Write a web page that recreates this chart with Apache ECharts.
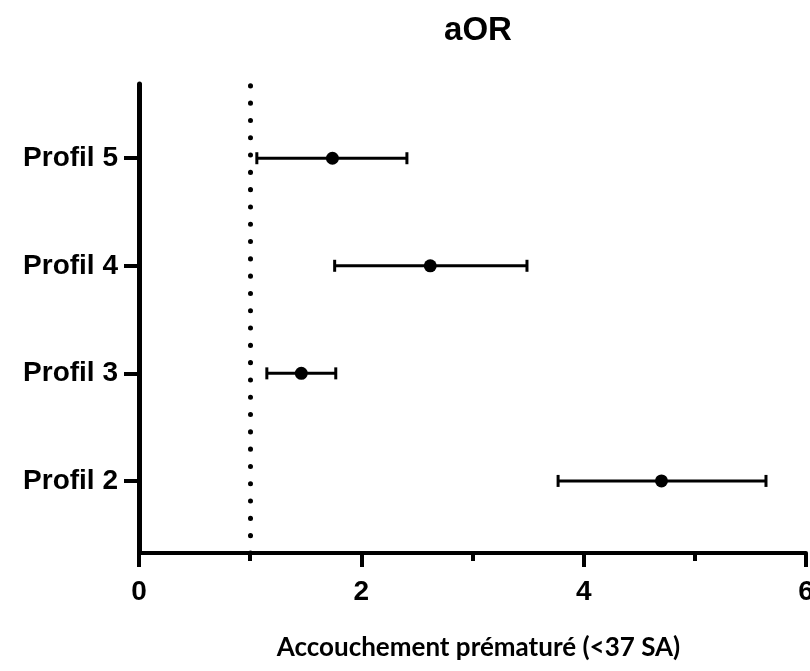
<!DOCTYPE html>
<html>
<head>
<meta charset="utf-8">
<script src="https://cdn.jsdelivr.net/npm/echarts@6/dist/echarts.min.js"></script>
<style>
  html, body { margin: 0; padding: 0; background: #fff; }
  #chart { width: 810px; height: 671px; }
</style>
</head>
<body>
<div id="chart"></div>
<script>
// forest plot - aOR with 95% CI
const profiles = ['Profil 2', 'Profil 3', 'Profil 4', 'Profil 5'];
const rowPos = [2, 3, 4, 5];
const aor = [4.70, 1.46, 2.62, 1.74];
const ciLow = [3.77, 1.15, 1.76, 1.06];
const ciHigh = [5.64, 1.77, 3.49, 2.41];
const refLine = 1;

const ciData = rowPos.map((p, i) => [ciLow[i], ciHigh[i], p]);
const pointData = rowPos.map((p, i) => [aor[i], p]);

const chart = echarts.init(document.getElementById('chart'));

const option = {
  animation: false,
  backgroundColor: '#fff',
  title: {
    text: 'aOR',
    left: 473,
    top: 9,
    textAlign: 'center',
    textStyle: { fontFamily: 'Liberation Sans', fontWeight: 'bold', fontSize: 33, color: '#000' }
  },
  grid: { left: 139, right: 4, top: 84, bottom: 118, containLabel: false, outerBoundsMode: 'none' },
  xAxis: {
    type: 'value',
    min: 0,
    max: 6,
    interval: 2,
    name: 'Accouchement prématuré (<37 SA)',
    nameLocation: 'middle',
    nameGap: 82,
    nameTextStyle: { fontFamily: 'Lato', fontWeight: 'bold', fontSize: 26, color: '#000', padding: [0, 0, 0, 12] },
    axisLine: { lineStyle: { color: '#000', width: 4 } },
    axisTick: { length: 14, lineStyle: { color: '#000', width: 4 } },
    minorTick: { show: true, splitNumber: 2, length: 8, lineStyle: { color: '#000', width: 4 } },
    axisLabel: { margin: 25, fontFamily: 'Liberation Sans', fontWeight: 'bold', fontSize: 28, color: '#000' },
    splitLine: { show: false }
  },
  yAxis: {
    type: 'value',
    min: 1.33,
    max: 5.69,
    axisLine: { show: true, lineStyle: { color: '#000', width: 5 } },
    axisTick: { show: true, length: 15, customValues: rowPos, lineStyle: { color: '#000', width: 4 } },
    axisLabel: {
      margin: 21,
      customValues: rowPos,
      fontFamily: 'Liberation Sans',
      fontWeight: 'bold',
      fontSize: 28,
      color: '#000',
      formatter: (v) => profiles[rowPos.indexOf(Math.round(v))] || ''
    },
    splitLine: { show: false }
  },
  series: [
    {
      type: 'custom',
      data: ciData,
      encode: { x: [0, 1], y: 2 },
      renderItem: function (params, api) {
        const lo = api.coord([api.value(0), api.value(2)]);
        const hi = api.coord([api.value(1), api.value(2)]);
        const capH = 6;
        const style = { stroke: '#000', lineWidth: 3 };
        return {
          type: 'group',
          children: [
            { type: 'line', shape: { x1: lo[0], y1: lo[1], x2: hi[0], y2: hi[1] }, style: style },
            { type: 'line', shape: { x1: lo[0], y1: lo[1] - capH, x2: lo[0], y2: lo[1] + capH }, style: style },
            { type: 'line', shape: { x1: hi[0], y1: hi[1] - capH, x2: hi[0], y2: hi[1] + capH }, style: style }
          ]
        };
      },
      markLine: {
        silent: true,
        symbol: 'none',
        label: { show: false },
        lineStyle: { color: '#000', width: 5, opacity: 1, type: [0.1, 17.2], cap: 'round' },
        data: [{ xAxis: refLine }]
      },
      z: 2
    },
    {
      type: 'scatter',
      data: pointData,
      symbol: 'circle',
      symbolSize: 13,
      itemStyle: { color: '#000', opacity: 1 },
      z: 3
    }
  ]
};

chart.setOption(option);
</script>
</body>
</html>
